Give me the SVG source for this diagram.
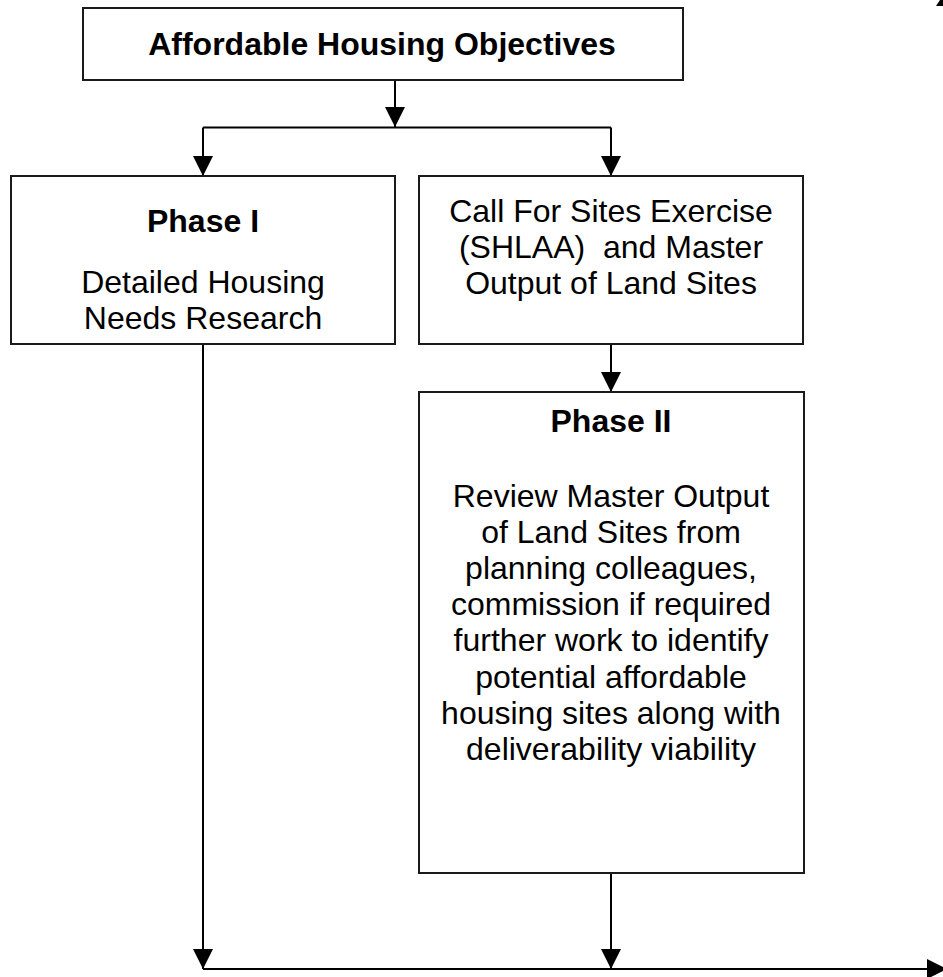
<svg xmlns="http://www.w3.org/2000/svg" width="943" height="977" viewBox="0 0 943 977">
<style>
.box{fill:#fff;stroke:#1a1a1a;stroke-width:2}
.ln{fill:none;stroke:#000;stroke-width:2}
.t{font-family:"Liberation Sans",Arial,sans-serif;font-size:32px;fill:#000;text-anchor:middle}
.b{font-weight:bold}
</style>
<defs>
<marker id="ah" markerUnits="userSpaceOnUse" markerWidth="20" markerHeight="20" refX="20" refY="10" orient="auto" viewBox="0 0 20 20">
<path d="M0,0 L20,10 L0,20 Z" fill="#000"/>
</marker>
</defs>
<rect width="943" height="977" fill="#fff"/>
<g id="connectors">
<line class="ln" x1="395" y1="80" x2="395" y2="127" marker-end="url(#ah)"/>
<line class="ln" x1="203" y1="127.5" x2="611" y2="127.5"/>
<line class="ln" x1="203" y1="127.5" x2="203" y2="176" marker-end="url(#ah)"/>
<line class="ln" x1="611" y1="127.5" x2="611" y2="176" marker-end="url(#ah)"/>
<line class="ln" x1="611" y1="344" x2="611" y2="392" marker-end="url(#ah)"/>
<line class="ln" x1="203" y1="344" x2="203" y2="969" marker-end="url(#ah)"/>
<line class="ln" x1="611" y1="873" x2="611" y2="969" marker-end="url(#ah)"/>
<line class="ln" x1="203" y1="969" x2="947" y2="969" marker-end="url(#ah)"/>
<polygon points="936,6 944,-6 944,6" fill="#000"/>
</g>
<g id="objectives">
<rect class="box" x="83" y="8" width="600" height="72"/>
<text class="t b" x="382" y="54.5">Affordable Housing Objectives</text>
</g>
<g id="phase1">
<rect class="box" x="11" y="176" width="384" height="168"/>
<text class="t b" x="203" y="232">Phase I</text>
<text class="t" x="203" y="293">Detailed Housing</text>
<text class="t" x="203" y="328.5">Needs Research</text>
</g>
<g id="callforsites">
<rect class="box" x="419" y="176" width="384" height="168"/>
<text class="t" x="611" y="221.5">Call For Sites Exercise</text>
<text class="t" x="611" y="257.5" xml:space="preserve">(SHLAA)  and Master</text>
<text class="t" x="611" y="293.5">Output of Land Sites</text>
</g>
<g id="phase2">
<rect class="box" x="419" y="392" width="385" height="481"/>
<text class="t b" x="611" y="431.5">Phase II</text>
<text class="t" x="611" y="506.5">Review Master Output</text>
<text class="t" x="611" y="542.7">of Land Sites from</text>
<text class="t" x="611" y="578.9">planning colleagues,</text>
<text class="t" x="611" y="615.1">commission if required</text>
<text class="t" x="611" y="651.3">further work to identify</text>
<text class="t" x="611" y="687.5">potential affordable</text>
<text class="t" x="611" y="723.7">housing sites along with</text>
<text class="t" x="611" y="759.9">deliverability viability</text>
</g>
</svg>
